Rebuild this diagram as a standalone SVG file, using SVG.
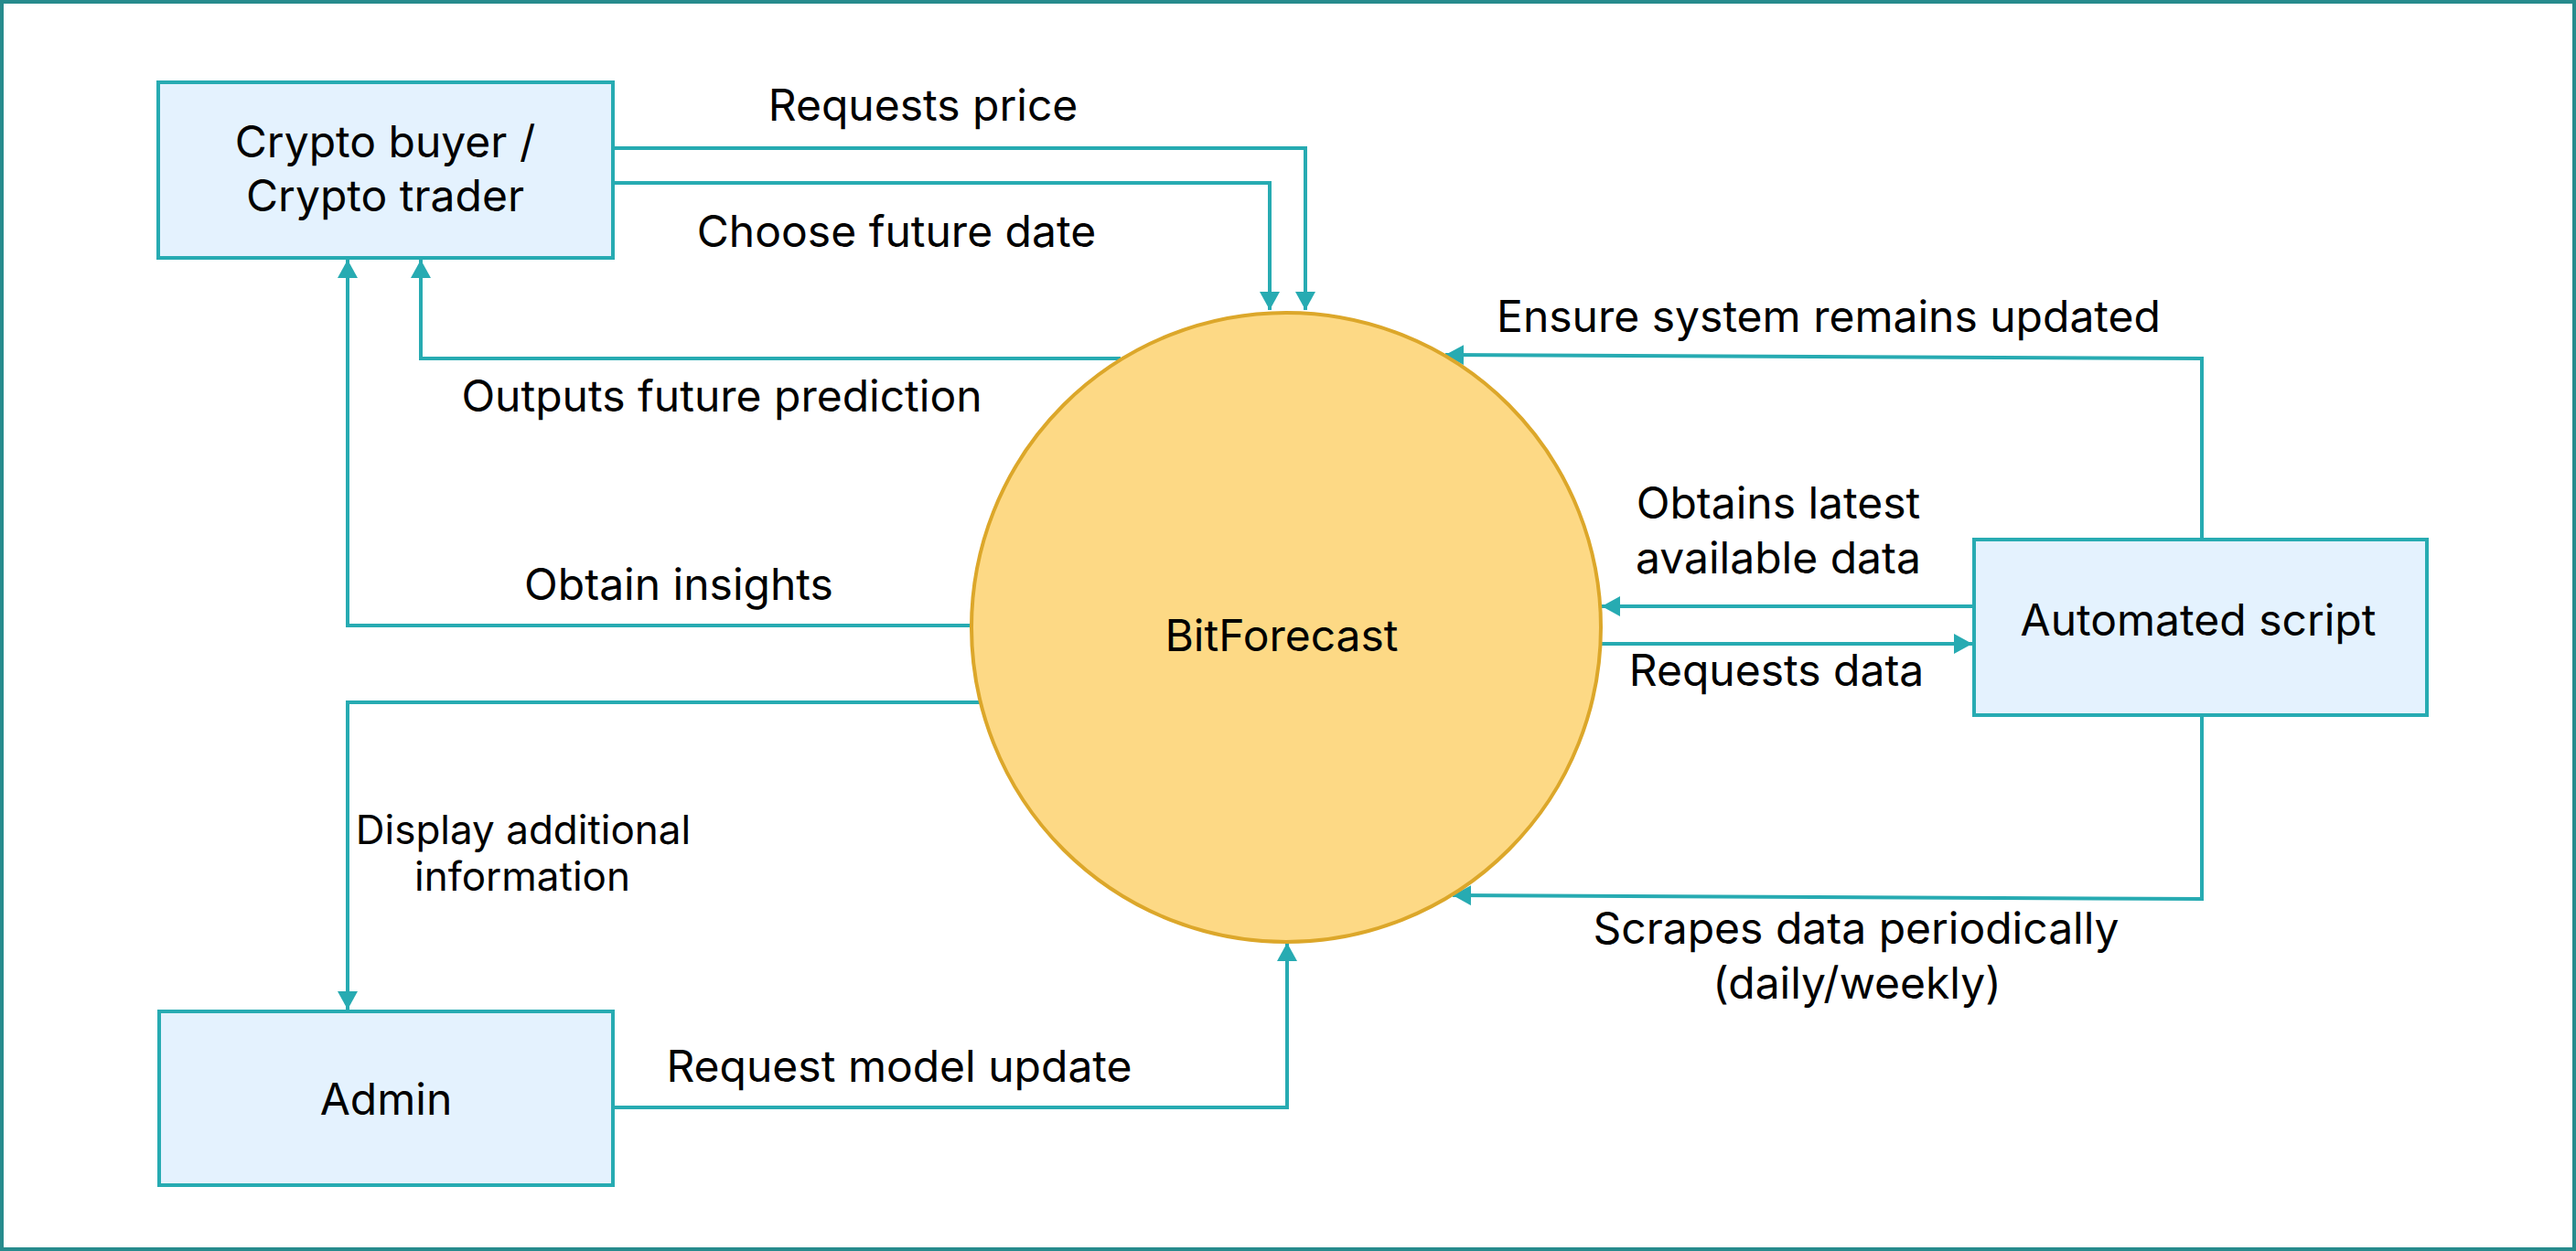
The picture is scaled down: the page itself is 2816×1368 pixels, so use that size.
<svg xmlns="http://www.w3.org/2000/svg" width="2816" height="1368" viewBox="0 0 2816 1368">
  <style>
    .lbl { font-family: Inter, "Liberation Sans", sans-serif; font-size: 48px; fill: #000; text-anchor: middle; }
    .sm { font-size: 44px; }
    .box { fill: #E4F2FE; stroke: #27ABB2; stroke-width: 4; }
    .conn { fill: none; stroke: #27ABB2; stroke-width: 4; marker-end: url(#arr); }
  </style>
  <defs>
    <marker id="arr" viewBox="0 0 20 22" refX="20" refY="11" markerWidth="20" markerHeight="22" markerUnits="userSpaceOnUse" orient="auto">
      <path d="M0,0 L20,11 L0,22 z" fill="#27ABB2"/>
    </marker>
  </defs>
  <rect x="0" y="0" width="2816" height="1368" fill="#fff"/>
  <rect x="2" y="2" width="2812" height="1364" fill="none" stroke="#278B8D" stroke-width="4"/>

  <g id="connectors">
    <path class="conn" d="M672,162 H1427 V339"/>
    <path class="conn" d="M672,200 H1388 V339"/>
    <path class="conn" d="M1225,392 H460 V284"/>
    <path class="conn" d="M1062,684 H380 V284"/>
    <path class="conn" d="M1072,768 H380 V1104"/>
    <path class="conn" d="M672,1211 H1407 V1031"/>
    <path class="conn" d="M2407,589 V392 L1580,388"/>
    <path class="conn" d="M2157,663 H1751"/>
    <path class="conn" d="M1750,704 H2156"/>
    <path class="conn" d="M2407,783 V983 L1588,979"/>
  </g>

  <g id="labels">
    <text class="lbl" x="1009" y="132">Requests price</text>
    <text class="lbl" x="980" y="270">Choose future date</text>
    <text class="lbl" x="789" y="450">Outputs future prediction</text>
    <text class="lbl" x="742" y="656">Obtain insights</text>
    <text class="lbl sm" x="572" y="923">Display additional</text>
    <text class="lbl sm" x="571" y="974">information</text>
    <text class="lbl" x="983" y="1183">Request model update</text>
    <text class="lbl" x="1999" y="363">Ensure system remains updated</text>
    <text class="lbl" x="1944" y="567">Obtains latest</text>
    <text class="lbl" x="1944" y="627">available data</text>
    <text class="lbl" x="1942" y="750">Requests data</text>
    <text class="lbl" x="2029" y="1032">Scrapes data periodically</text>
    <text class="lbl" x="2030" y="1092">(daily/weekly)</text>
  </g>

  <g id="crypto-user">
    <rect class="box" x="173" y="90" width="497" height="192"/>
    <text class="lbl" x="421" y="172">Crypto buyer /</text>
    <text class="lbl" x="421" y="231">Crypto trader</text>
  </g>

  <g id="admin">
    <rect class="box" x="174" y="1106" width="496" height="190"/>
    <text class="lbl" x="422" y="1219">Admin</text>
  </g>

  <g id="automated-script">
    <rect class="box" x="2158" y="590" width="495" height="192"/>
    <text class="lbl" x="2403" y="695">Automated script</text>
  </g>

  <g id="bitforecast">
    <circle cx="1406" cy="686" r="344" fill="#FDD985" stroke="#DCA72A" stroke-width="4"/>
    <text class="lbl" x="1401" y="712">BitForecast</text>
  </g>
</svg>
